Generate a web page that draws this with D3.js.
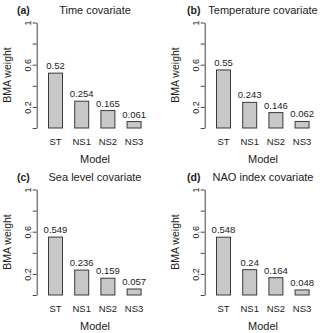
<!DOCTYPE html>
<html>
<head>
<meta charset="utf-8">
<script src="https://cdn.jsdelivr.net/npm/d3@7"></script>
<style>
  body { margin: 0; background: #fff; }
  text { font-family: "Liberation Sans", Arial, sans-serif; fill: #222; }
</style>
</head>
<body>
<div id="chart"></div>
<script>
// data
const models = ["ST", "NS1", "NS2", "NS3"];
const panelTags = ["(a)", "(b)", "(c)", "(d)"];
const panelTitles = ["Time covariate", "Temperature covariate", "Sea level covariate", "NAO index covariate"];
const timeWeights = [0.52, 0.254, 0.165, 0.061];
const tempWeights = [0.55, 0.243, 0.146, 0.062];
const seaWeights = [0.549, 0.236, 0.159, 0.057];
const naoWeights = [0.548, 0.24, 0.164, 0.048];
const yTicks = [0, 0.2, 0.4, 0.6, 0.8, 1];
const yTickLabels = [0.2, 0.6, 1];

const allWeights = [timeWeights, tempWeights, seaWeights, naoWeights];

let svg = d3.select("#chart")
    .append("svg")
    .attr("width", 320)
    .attr("height", 333);

// scales shared by the 4 panels (panel-local coords)
let y = d3.scaleLinear().domain([0, 1]).range([128, 22.5]);
let x = d3.scaleBand().domain(models).range([42.4, 147.2])
    .paddingInner(0.466).paddingOuter(0.233);
let axisX = 36.7;

allWeights.forEach((vals, i) => {
    let col = i % 2, row = Math.floor(i / 2);
    let g = svg.append("g")
        .attr("transform", `translate(${col * 168},${row * 167})`);

    // y axis
    let ax = g.append("g")
        .attr("transform", `translate(${axisX},0)`)
        .call(d3.axisLeft(y).tickValues(yTicks).tickSize(4).tickSizeOuter(0)
            .tickFormat(d => yTickLabels.includes(d) ? d3.format("~g")(d) : ""));
    ax.select(".domain").attr("stroke", "#444");
    ax.selectAll(".tick line").attr("stroke", "#444");
    ax.selectAll(".tick text")
        .attr("x", 0).attr("y", -6).attr("dy", 0)
        .attr("transform", "rotate(-90)")
        .attr("text-anchor", "middle")
        .style("font-size", "9px")
        .attr("fill", "#222");
    ax.attr("font-family", null).attr("font-size", null);

    // bars
    g.selectAll("rect")
        .data(vals)
        .join("rect")
        .attr("x", (d, j) => x(models[j]))
        .attr("y", d => y(d))
        .attr("width", x.bandwidth())
        .attr("height", d => y(0) - y(d))
        .attr("fill", "#c8c8c8")
        .attr("stroke", "#3a3a3a")
        .attr("stroke-width", 1);

    // value labels
    g.selectAll(".val")
        .data(vals)
        .join("text")
        .attr("class", "val")
        .attr("x", (d, j) => x(models[j]) + x.bandwidth() / 2)
        .attr("y", d => y(d) - 4)
        .attr("text-anchor", "middle")
        .style("font-size", "9.5px")
        .text(d => d);

    // category labels
    g.selectAll(".cat")
        .data(models)
        .join("text")
        .attr("class", "cat")
        .attr("x", d => x(d) + x.bandwidth() / 2)
        .attr("y", 144.5)
        .attr("text-anchor", "middle")
        .style("font-size", "9.5px")
        .text(d => d);

    g.append("text")
        .attr("x", 95).attr("y", 163)
        .attr("text-anchor", "middle")
        .style("font-size", "11px")
        .text("Model");

    g.append("text")
        .attr("transform", "translate(11,75) rotate(-90)")
        .attr("text-anchor", "middle")
        .style("font-size", "10.5px")
        .text("BMA weight");

    g.append("text")
        .attr("x", 95).attr("y", 14)
        .attr("text-anchor", "middle")
        .style("font-size", "11px")
        .text(panelTitles[i]);

    g.append("text")
        .attr("x", 17 + col * 2).attr("y", 13.5)
        .style("font-size", "10.5px")
        .style("font-weight", "bold")
        .text(panelTags[i]);
});
</script>
</body>
</html>
